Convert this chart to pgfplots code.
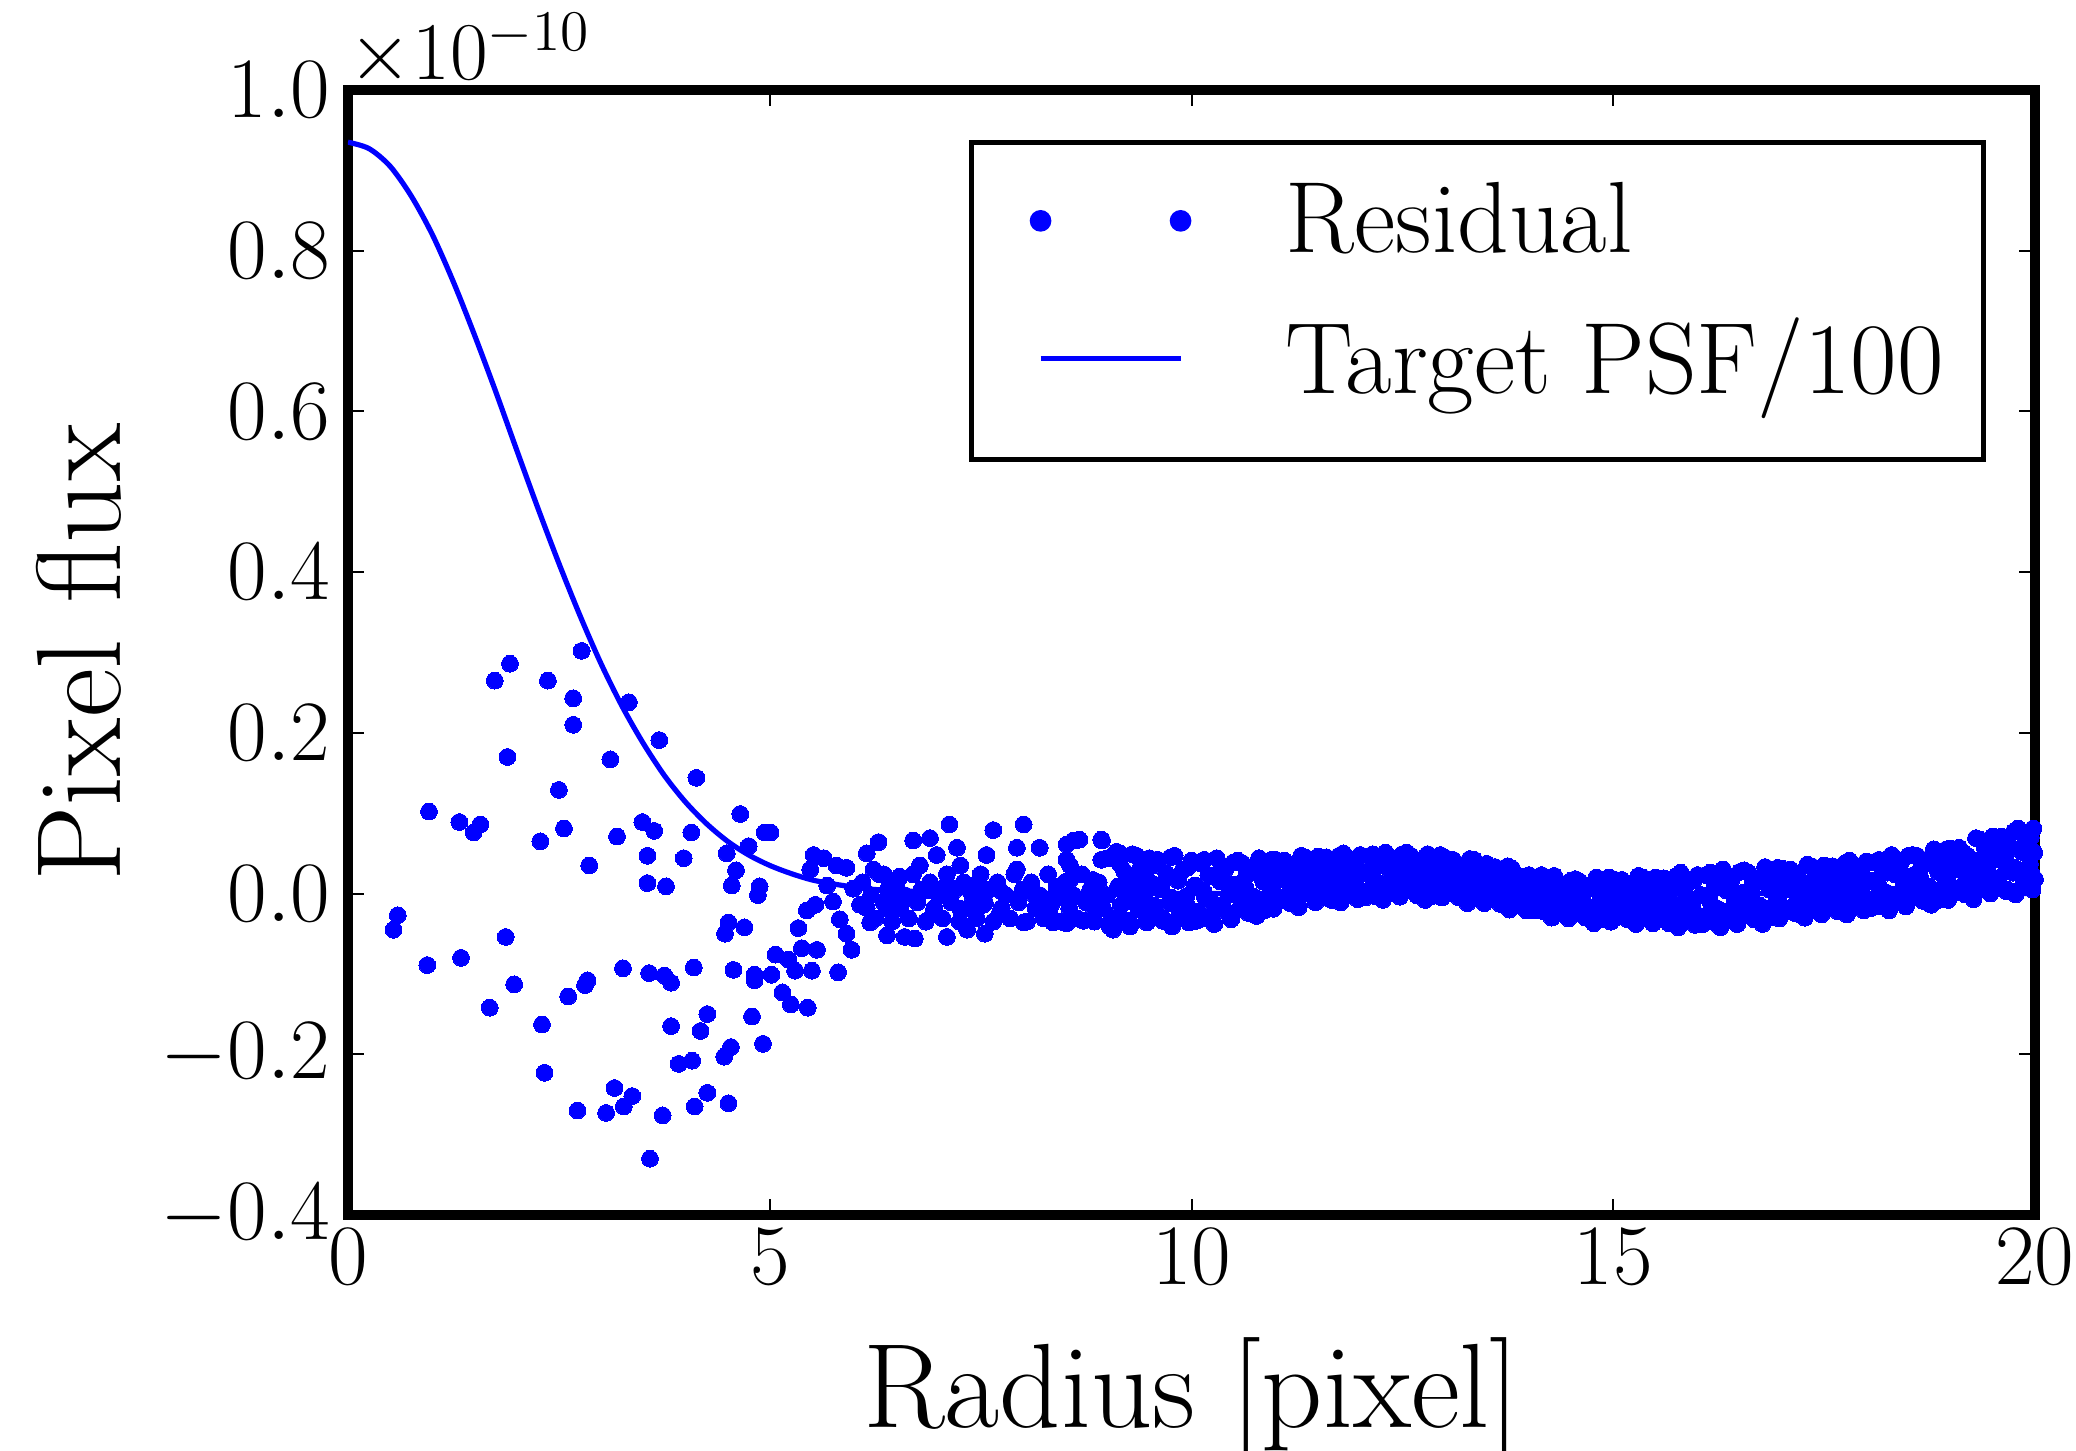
\RequirePackage{fix-cm}
\documentclass[border=0pt]{standalone}
\usepackage{pgfplots}
\pgfplotsset{compat=1.18}
\begin{document}
\begin{tikzpicture}
\path[use as bounding box] (-87pt,-59pt) rectangle (432pt,303.75pt);
\begin{axis}[
  at={(0pt,0pt)}, anchor=south west,
  scale only axis, width=421.75pt, height=281.25pt,
  xmin=0, xmax=20, ymin=-0.4, ymax=1.0,
  xtick={0,5,10,15,20},
  ytick={-0.4,-0.2,0,0.2,0.4,0.6,0.8,1.0},
  yticklabel style={/pgf/number format/.cd, fixed, fixed zerofill, precision=1, /tikz/.cd, xshift=-1pt},
  scaled y ticks=false,
  tick label style={font=\fontsize{21.5}{25}\selectfont},
  axis line style={line width=2.4pt},
  tick style={line width=0.5pt, black},
  major tick length=4pt,
  tick align=inside,
  xtick pos=both, ytick pos=both,
  xlabel={Radius [pixel]},
  ylabel={Pixel flux},
  label style={font=\fontsize{30}{36}\selectfont},
  xlabel style={at={(axis description cs:0.5,-0.1084)}, anchor=north, inner sep=0pt},
  ylabel style={at={(axis description cs:-0.1351,0.5)}, anchor=base, inner sep=0pt},
  legend style={at={(rel axis cs:0.971,0.9556)}, anchor=north east, draw=black, line width=1.2pt, fill=white,
    font=\fontsize{25.3}{30}\selectfont, inner xsep=10pt, inner ysep=10.1pt, row sep=9.85pt,
    nodes={inner sep=0pt},
    /tikz/every odd column/.append style={column sep=23.6pt}},
  legend cell align=left,
  clip mode=individual,
]
\addplot[only marks, color=blue, mark=*, mark size=2.1pt, mark options={solid, fill=blue, draw=blue, line width=0pt},
  legend image code/.code={\path[draw=none,fill=none] (-7.3pt,0pt) -- (37.1pt,0pt); \fill[blue] (0pt,0pt) circle (2.1pt); \fill[blue] (35pt,0pt) circle (2.1pt);}]
coordinates {
(2.77,0.302)(1.92,0.286)(1.74,0.265)(2.37,0.265)(2.67,0.243)(2.67,0.210)(3.33,0.238)(3.69,0.191)(1.89,0.170)(3.11,0.167)
(4.13,0.144)(2.50,0.129)(4.65,0.099)(0.96,0.102)(1.32,0.089)(1.57,0.086)(1.49,0.076)(2.28,0.065)(2.56,0.081)(3.19,0.071)
(3.49,0.089)(3.63,0.078)(4.07,0.076)(4.94,0.076)(2.86,0.035)(3.55,0.047)(3.98,0.044)(4.49,0.050)(4.75,0.059)(4.60,0.029)
(3.55,0.013)(3.77,0.009)(4.55,0.010)(4.88,0.009)(4.86,-0.002)(0.59,-0.027)(0.54,-0.045)(1.87,-0.054)(4.51,-0.036)(4.47,-0.050)
(4.70,-0.042)(0.94,-0.089)(1.34,-0.080)(1.97,-0.113)(3.26,-0.093)(3.57,-0.099)(3.75,-0.102)(3.83,-0.111)(4.10,-0.092)(4.57,-0.095)
(4.82,-0.101)(4.82,-0.108)(2.84,-0.108)(2.81,-0.114)(2.61,-0.128)(1.68,-0.142)(2.30,-0.163)(4.26,-0.150)(3.83,-0.165)(4.18,-0.171)
(4.79,-0.153)(4.92,-0.187)(4.54,-0.191)(4.46,-0.203)(3.92,-0.212)(4.08,-0.208)(2.33,-0.223)(3.16,-0.242)(3.37,-0.252)(3.27,-0.265)
(2.72,-0.270)(3.06,-0.273)(3.73,-0.276)(4.11,-0.265)(4.26,-0.248)(4.51,-0.261)(3.58,-0.330)
(5.01,0.076)(5.07,-0.076)(5.22,-0.082)(5.38,-0.068)(5.56,-0.070)(5.50,-0.096)(5.30,-0.096)(5.02,-0.101)(5.81,-0.098)(5.15,-0.123)
(5.25,-0.138)(5.45,-0.142)(5.34,-0.043)(5.44,-0.021)(5.54,-0.014)(5.52,0.048)(5.64,0.044)(5.79,0.035)(5.91,0.032)(5.48,0.030)
(5.68,0.010)(5.99,0.006)(5.75,-0.010)(5.83,-0.032)(5.91,-0.050)(5.97,-0.070)(6.15,0.050)(6.29,0.064)(6.35,0.024)(6.54,0.021)
(6.19,-0.036)(6.39,-0.052)(6.60,-0.054)(6.72,-0.056)(6.70,0.066)(6.90,0.069)(7.13,0.086)(6.78,0.035)(6.98,0.048)(6.86,0.004)
(7.10,0.012)(7.22,0.057)(7.10,-0.054)(7.34,-0.045)(7.55,-0.050)(7.65,0.079)(8.01,0.086)(7.57,0.048)(7.93,0.057)(8.20,0.057)
(8.52,0.061)(8.60,0.066)(8.94,0.066)(9.00,0.044)(9.11,0.052)(8.56,0.035)(8.52,0.015)(7.93,0.030)(7.26,0.035)(7.45,0.012)
(7.73,0.004)(8.13,-0.001)(8.44,-0.005)(8.84,-0.001)(8.01,-0.036)(8.36,-0.036)(8.72,-0.034)(9.03,-0.041)(9.07,-0.045)(6.66,-0.005)
(6.50,-0.014)(6.94,-0.023)(7.26,-0.019)(7.53,-0.014)(7.73,-0.023)(8.32,-0.019)(8.92,-0.014)(6.23,0.030)(6.54,-0.001)(6.39,-0.019)
(6.07,-0.014)
(8.40,0.008)(8.52,0.042)(8.56,0.017)(8.83,0.017)(8.93,0.042)(9.15,0.050)(9.35,0.011)(9.13,0.009)(8.83,-0.016)(8.52,-0.037)
(8.67,0.067)(8.93,0.067)
(6.10,0.014)(6.15,-0.018)(6.20,-0.002)(6.25,-0.031)(6.30,0.024)(6.35,-0.011)(6.40,0.005)(6.45,-0.035)
(6.50,0.014)(6.55,-0.018)(6.60,-0.002)(6.65,-0.031)(6.70,0.024)(6.75,-0.011)(6.80,0.005)(6.85,-0.035)
(6.90,0.014)(6.95,-0.018)(7.00,-0.002)(7.05,-0.031)(7.10,0.024)(7.15,-0.011)(7.20,0.005)(7.25,-0.035)
(7.30,0.014)(7.35,-0.018)(7.40,-0.002)(7.45,-0.031)(7.50,0.024)(7.55,-0.011)(7.60,0.005)(7.65,-0.035)
(7.70,0.014)(7.75,-0.018)(7.80,-0.002)(7.85,-0.031)(7.90,0.024)(7.95,-0.011)(8.00,0.005)(8.05,-0.035)
(8.10,0.014)(8.15,-0.018)(8.20,-0.002)(8.25,-0.031)(8.30,0.024)(8.35,-0.011)(8.40,0.005)(8.45,-0.035)
(8.50,0.014)(8.55,-0.018)(8.60,-0.002)(8.65,-0.031)(8.70,0.024)(8.75,-0.011)(8.80,0.005)(8.85,-0.035)
(8.90,0.014)(8.95,-0.018)(9.00,-0.002)(9.05,-0.031)
(9.10,0.044)(9.14,0.006)(9.17,-0.031)(9.20,0.028)(9.24,-0.010)(9.27,-0.041)(9.30,0.049)(9.34,0.017)(9.37,-0.018)
(9.40,0.033)(9.44,-0.002)(9.47,-0.036)(9.50,0.044)(9.54,0.012)(9.57,-0.022)(9.60,0.042)(9.64,0.005)(9.67,-0.032)
(9.70,0.025)(9.74,-0.012)(9.77,-0.041)(9.80,0.047)(9.84,0.016)(9.87,-0.018)(9.90,0.030)(9.94,-0.003)(9.97,-0.036)
(10.00,0.041)(10.04,0.010)(10.07,-0.023)(10.10,0.038)(10.14,0.003)(10.17,-0.031)(10.20,0.023)(10.24,-0.011)(10.27,-0.038)
(10.30,0.044)(10.34,0.015)(10.37,-0.017)(10.40,0.030)(10.44,-0.001)(10.47,-0.032)(10.50,0.039)(10.54,0.011)(10.57,-0.019)
(10.60,0.038)(10.64,0.007)(10.67,-0.024)(10.70,0.026)(10.74,-0.004)(10.77,-0.028)(10.80,0.044)(10.84,0.019)(10.87,-0.008)
(10.90,0.032)(10.94,0.007)(10.97,-0.019)(11.00,0.042)(11.04,0.019)(11.07,-0.006)(11.10,0.041)(11.14,0.015)(11.17,-0.012)
(11.20,0.031)(11.24,0.004)(11.27,-0.017)(11.30,0.047)(11.34,0.025)(11.37,0.001)(11.40,0.037)(11.44,0.013)(11.47,-0.011)
(11.50,0.046)(11.54,0.023)(11.57,-0.001)(11.60,0.045)(11.64,0.020)(11.67,-0.006)(11.70,0.034)(11.74,0.009)(11.77,-0.011)
(11.80,0.050)(11.84,0.028)(11.87,0.005)(11.90,0.039)(11.94,0.016)(11.97,-0.007)(12.00,0.048)(12.04,0.026)(12.07,0.003)
(12.10,0.046)(12.14,0.022)(12.17,-0.003)(12.20,0.036)(12.24,0.012)(12.27,-0.008)(12.30,0.051)(12.34,0.030)(12.37,0.008)
(12.40,0.042)(12.44,0.019)(12.47,-0.004)(12.50,0.049)(12.54,0.028)(12.57,0.006)(12.60,0.047)(12.64,0.023)(12.67,-0.002)
(12.70,0.036)(12.74,0.012)(12.77,-0.008)(12.80,0.049)(12.84,0.029)(12.87,0.007)(12.90,0.039)(12.94,0.017)(12.97,-0.005)
(13.00,0.045)(13.04,0.025)(13.07,0.003)(13.10,0.042)(13.14,0.018)(13.17,-0.005)(13.20,0.031)(13.24,0.007)(13.27,-0.012)
(13.30,0.043)(13.34,0.023)(13.37,0.001)(13.40,0.032)(13.44,0.010)(13.47,-0.012)(13.50,0.037)(13.54,0.017)(13.57,-0.005)
(13.60,0.033)(13.64,0.010)(13.67,-0.012)(13.70,0.021)(13.74,-0.001)(13.77,-0.020)(13.80,0.031)(13.84,0.012)(13.87,-0.008)
(13.90,0.020)(13.94,-0.001)(13.97,-0.021)(14.00,0.023)(14.04,0.005)(14.07,-0.014)(14.10,0.020)(14.14,-0.001)(14.17,-0.022)
(14.20,0.010)(14.24,-0.012)(14.27,-0.030)(14.30,0.022)(14.34,0.003)(14.37,-0.017)(14.40,0.011)(14.44,-0.010)(14.47,-0.031)
(14.50,0.016)(14.54,-0.003)(14.57,-0.024)(14.60,0.015)(14.64,-0.008)(14.67,-0.030)(14.70,0.006)(14.74,-0.018)(14.77,-0.037)
(14.80,0.020)(14.84,0.000)(14.87,-0.022)(14.90,0.011)(14.94,-0.012)(14.97,-0.035)(15.00,0.018)(15.04,-0.003)(15.07,-0.026)
(15.10,0.017)(15.14,-0.007)(15.17,-0.032)(15.20,0.007)(15.24,-0.018)(15.27,-0.038)(15.30,0.022)(15.34,0.000)(15.37,-0.024)
(15.40,0.011)(15.44,-0.013)(15.47,-0.037)(15.50,0.020)(15.54,-0.003)(15.57,-0.028)(15.60,0.019)(15.64,-0.008)(15.67,-0.036)
(15.70,0.007)(15.74,-0.020)(15.77,-0.042)(15.80,0.026)(15.84,0.002)(15.87,-0.025)(15.90,0.014)(15.94,-0.013)(15.97,-0.039)
(16.00,0.023)(16.04,-0.002)(16.07,-0.029)(16.10,0.023)(16.14,-0.006)(16.17,-0.035)(16.20,0.010)(16.24,-0.019)(16.27,-0.042)
(16.30,0.030)(16.34,0.004)(16.37,-0.024)(16.40,0.017)(16.44,-0.011)(16.47,-0.038)(16.50,0.027)(16.54,0.001)(16.57,-0.026)
(16.60,0.026)(16.64,-0.003)(16.67,-0.032)(16.70,0.014)(16.74,-0.015)(16.77,-0.038)(16.80,0.033)(16.84,0.009)(16.87,-0.018)
(16.90,0.022)(16.94,-0.005)(16.97,-0.031)(17.00,0.031)(17.04,0.007)(17.07,-0.019)(17.10,0.030)(17.14,0.003)(17.17,-0.025)
(17.20,0.019)(17.24,-0.008)(17.27,-0.030)(17.30,0.036)(17.34,0.012)(17.37,-0.013)(17.40,0.025)(17.44,0.000)(17.47,-0.026)
(17.50,0.035)(17.54,0.011)(17.57,-0.015)(17.60,0.034)(17.64,0.007)(17.67,-0.021)(17.70,0.023)(17.74,-0.004)(17.77,-0.026)
(17.80,0.041)(17.84,0.017)(17.87,-0.008)(17.90,0.030)(17.94,0.005)(17.97,-0.021)(18.00,0.040)(18.04,0.016)(18.07,-0.010)
(18.10,0.039)(18.14,0.012)(18.17,-0.016)(18.20,0.028)(18.24,0.001)(18.27,-0.021)(18.30,0.048)(18.34,0.024)(18.37,-0.003)
(18.40,0.037)(18.44,0.011)(18.47,-0.016)(18.50,0.047)(18.54,0.022)(18.57,-0.004)(18.60,0.047)(18.64,0.019)(18.67,-0.009)
(18.70,0.037)(18.74,0.009)(18.77,-0.014)(18.80,0.055)(18.84,0.031)(18.87,0.004)(18.90,0.045)(18.94,0.019)(18.97,-0.008)
(19.00,0.056)(19.04,0.031)(19.07,0.005)(19.10,0.057)(19.14,0.028)(19.17,-0.001)(19.20,0.047)(19.24,0.017)(19.27,-0.007)
(19.30,0.069)(19.34,0.042)(19.37,0.014)(19.40,0.058)(19.44,0.029)(19.47,0.000)(19.50,0.071)(19.54,0.043)(19.57,0.013)
(19.60,0.071)(19.64,0.038)(19.67,0.005)(19.70,0.059)(19.74,0.026)(19.77,-0.001)(19.80,0.081)(19.84,0.052)(19.87,0.020)
(19.90,0.068)(19.94,0.037)(19.97,0.005)(19.98,0.081)(19.99,0.051)(20.00,0.018)
(9.15,0.037)(9.16,-0.015)(9.25,0.013)(9.26,-0.034)(9.35,0.047)(9.36,-0.004)(9.45,0.024)(9.46,-0.027)
(9.55,0.035)(9.56,-0.015)(9.65,0.012)(9.66,-0.034)(9.75,0.045)(9.76,-0.005)(9.85,0.022)(9.86,-0.027)
(9.95,0.032)(9.96,-0.017)(10.05,0.010)(10.06,-0.034)(10.15,0.042)(10.16,-0.005)(10.25,0.021)(10.26,-0.025)
(10.35,0.031)(10.36,-0.015)(10.45,0.011)(10.46,-0.030)(10.55,0.041)(10.56,-0.003)(10.65,0.023)(10.66,-0.020)
(10.75,0.033)(10.76,-0.008)(10.85,0.015)(10.86,-0.021)(10.95,0.042)(10.96,0.005)(11.05,0.027)(11.06,-0.009)
(11.15,0.036)(11.16,0.000)(11.25,0.021)(11.26,-0.012)(11.35,0.045)(11.36,0.010)(11.45,0.030)(11.46,-0.005)
(11.55,0.039)(11.56,0.004)(11.65,0.024)(11.66,-0.008)(11.75,0.047)(11.76,0.013)(11.85,0.033)(11.86,-0.001)
(11.95,0.041)(11.96,0.007)(12.05,0.026)(12.06,-0.005)(12.15,0.049)(12.16,0.015)(12.25,0.035)(12.26,0.002)
(12.35,0.042)(12.36,0.009)(12.45,0.028)(12.46,-0.002)(12.55,0.051)(12.56,0.018)(12.65,0.035)(12.66,0.002)
(12.75,0.042)(12.76,0.009)(12.85,0.026)(12.86,-0.003)(12.95,0.048)(12.96,0.016)(13.05,0.032)(13.06,0.000)
(13.15,0.037)(13.16,0.005)(13.25,0.022)(13.26,-0.007)(13.35,0.042)(13.36,0.010)(13.45,0.026)(13.46,-0.006)
(13.55,0.031)(13.56,-0.001)(13.65,0.015)(13.66,-0.013)(13.75,0.034)(13.76,0.003)(13.85,0.016)(13.86,-0.014)
(13.95,0.021)(13.96,-0.009)(14.05,0.005)(14.06,-0.021)(14.15,0.023)(14.16,-0.006)(14.25,0.008)(14.26,-0.022)
(14.35,0.014)(14.36,-0.016)(14.45,-0.001)(14.46,-0.029)(14.55,0.018)(14.56,-0.013)(14.65,0.004)(14.66,-0.027)
(14.75,0.011)(14.76,-0.021)(14.85,-0.003)(14.86,-0.032)(14.95,0.020)(14.96,-0.014)(15.05,0.005)(15.06,-0.029)
(15.15,0.013)(15.16,-0.021)(15.25,-0.003)(15.26,-0.034)(15.35,0.020)(15.36,-0.015)(15.45,0.004)(15.46,-0.031)
(15.55,0.013)(15.56,-0.023)(15.65,-0.003)(15.66,-0.037)(15.75,0.022)(15.76,-0.015)(15.85,0.007)(15.86,-0.032)
(15.95,0.016)(15.96,-0.023)(16.05,-0.002)(16.06,-0.038)(16.15,0.026)(16.16,-0.013)(16.25,0.008)(16.26,-0.031)
(16.35,0.019)(16.36,-0.022)(16.45,0.000)(16.46,-0.037)(16.55,0.029)(16.56,-0.012)(16.65,0.011)(16.66,-0.028)
(16.75,0.021)(16.76,-0.018)(16.85,0.005)(16.86,-0.030)(16.95,0.032)(16.96,-0.006)(17.05,0.015)(17.06,-0.022)
(17.15,0.025)(17.16,-0.013)(17.25,0.009)(17.26,-0.025)(17.35,0.034)(17.36,-0.003)(17.45,0.018)(17.46,-0.019)
(17.55,0.028)(17.56,-0.010)(17.65,0.012)(17.66,-0.022)(17.75,0.038)(17.76,0.001)(17.85,0.022)(17.86,-0.015)
(17.95,0.032)(17.96,-0.006)(18.05,0.016)(18.06,-0.018)(18.15,0.042)(18.16,0.005)(18.25,0.026)(18.26,-0.011)
(18.35,0.038)(18.36,-0.001)(18.45,0.021)(18.46,-0.014)(18.55,0.048)(18.56,0.010)(18.65,0.033)(18.66,-0.006)
(18.75,0.044)(18.76,0.005)(18.85,0.027)(18.86,-0.008)(18.95,0.055)(18.96,0.017)(19.05,0.040)(19.06,0.001)
(19.15,0.051)(19.16,0.012)(19.25,0.035)(19.26,-0.002)(19.35,0.067)(19.36,0.025)(19.45,0.051)(19.46,0.008)
(19.55,0.063)(19.56,0.019)(19.65,0.044)(19.66,0.003)(19.75,0.077)(19.76,0.032)(19.85,0.058)(19.86,0.012)
(19.95,0.070)(19.96,0.024)
};
\addlegendentry{Residual}
\addplot[blue, line width=1.3pt, smooth,
  legend image code/.code={\path[draw=none,fill=none] (-7.3pt,-15.1pt) -- (37.1pt,15.1pt); \draw[blue, line width=1.3pt] (0pt,0pt) -- (35pt,0pt);}]
coordinates {
(0,0.935)(0.25,0.927)(0.5,0.905)(0.75,0.868)(1.0,0.820)(1.25,0.761)(1.5,0.695)(1.75,0.625)(2.0,0.552)
(2.25,0.480)(2.5,0.411)(2.75,0.346)(3.0,0.286)(3.25,0.233)(3.5,0.187)(3.75,0.147)(4.0,0.114)(4.25,0.087)
(4.5,0.065)(4.75,0.048)(5.0,0.035)(5.25,0.025)(5.5,0.017)(5.75,0.012)(6.0,0.008)(6.25,0.005)(6.5,0.004)
(7.0,0.001)(7.5,0.001)(8.0,0.000)(9.0,0.000)(20.0,0.000)
};
\addlegendentry{Target PSF/100}
\node[anchor=base west, inner sep=0pt, font=\fontsize{20.5}{24}\selectfont] at (rel axis cs:0,1) [yshift=2.5pt] {$\times10^{-10}$};
\end{axis}
\end{tikzpicture}
\end{document}
